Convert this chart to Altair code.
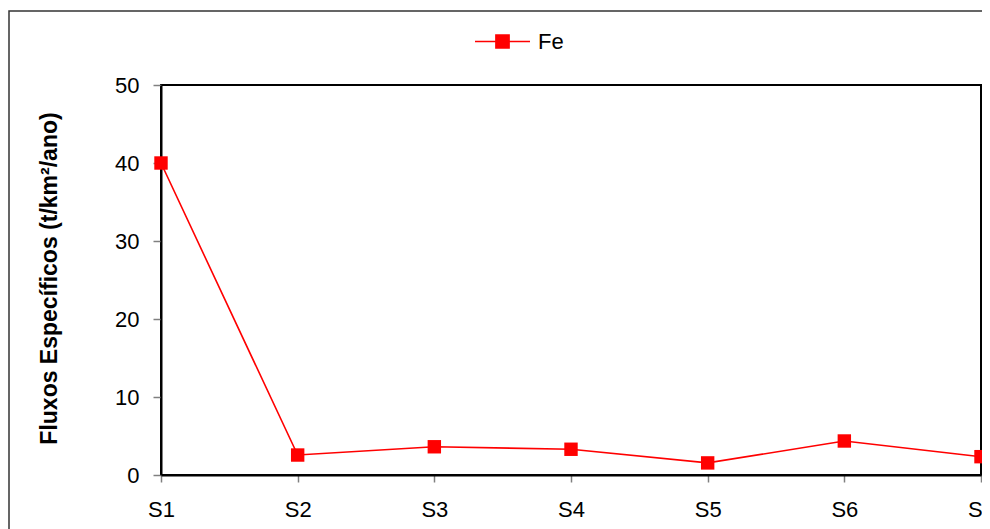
import altair as alt
import pandas as pd

stations = ["S1", "S2", "S3", "S4", "S5", "S6", "S7"]
fe_values = [40.0, 2.56, 3.62, 3.3, 1.55, 4.36, 2.35]
series_name = "Fe"
y_ticks = [0, 10, 20, 30, 40, 50]

df = pd.DataFrame({"station": stations, "value": fe_values, "serie": [series_name] * len(stations)})

W, H = 820, 390

frame = alt.Chart(pd.DataFrame({"a": [0]})).mark_rect(
    fill=None, stroke="#333333", strokeWidth=1.5
).encode(
    x=alt.value(-152), x2=alt.value(W + 40), y=alt.value(-74), y2=alt.value(H + 80)
)

legend_symbol = "M-1,0H1M-0.24,-0.24H0.24V0.24H-0.24Z"

base = alt.Chart(df).encode(
    x=alt.X("station:O", sort=stations, scale=alt.Scale(padding=0),
            axis=alt.Axis(title=None, labelAngle=0, labelFontSize=22, labelColor="black",
                          labelFont="Liberation Sans", tickColor="#808080", tickSize=7,
                          tickWidth=1.5, domainColor="black", domainWidth=2, labelPadding=17)),
    y=alt.Y("value:Q", scale=alt.Scale(domain=[0, 50], nice=False),
            axis=alt.Axis(values=y_ticks, title="Fluxos Específicos (t/km²/ano)",
                          titleFont="Liberation Sans", titleFontSize=23, titleFontWeight="bold",
                          titleColor="black", titleAngle=-90, titleX=-112, titleY=193,
                          titleAlign="center", titleBaseline="middle",
                          labelFontSize=22, labelColor="black", labelFont="Liberation Sans",
                          tickColor="#808080", tickSize=8, tickWidth=1.5, labelPadding=14,
                          domainColor="black", domainWidth=2, grid=False)),
    color=alt.Color("serie:N", scale=alt.Scale(domain=[series_name], range=["#ff0000"]),
                    legend=alt.Legend(title=None, orient="none", legendX=313, legendY=-72,
                                      symbolType=legend_symbol, symbolSize=3025,
                                      symbolFillColor="#ff0000", symbolStrokeColor="#ff0000",
                                      symbolStrokeWidth=1.5, labelFontSize=22,
                                      labelFont="Liberation Sans", labelColor="black",
                                      labelOffset=7, padding=0)),
)

line = base.mark_line(strokeWidth=1.6)
points = base.mark_point(shape="square", filled=True, size=180, opacity=1)

chart = alt.layer(frame, line, points).properties(
    width=W, height=H,
    background="white",
    autosize=alt.AutoSizeParams(type="none"),
    padding={"left": 153, "top": 77, "right": 1, "bottom": 90},
).configure_view(stroke="black", strokeWidth=2)

chart.save("out.html", embed_options={"renderer": "svg", "actions": False})
